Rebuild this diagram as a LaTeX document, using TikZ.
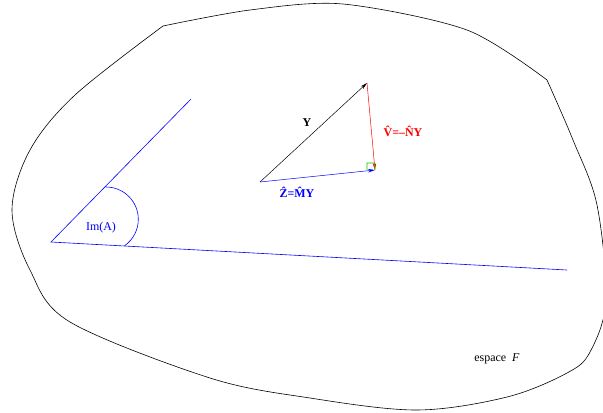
\documentclass[tikz,border=0pt]{standalone}
\usepackage{fontspec}
\setmainfont{Liberation Serif}
\usetikzlibrary{positioning,arrows.meta}

\begin{document}
\begin{tikzpicture}[
        x=1bp, y=-1bp,
        blob/.style={draw, line width=0.6pt},
        imline/.style={draw=blue, line width=0.6pt},
        vec/.style={line width=0.5pt, -{Stealth[length=7pt,width=3.5pt]}},
        lbl/.style={font=\fontsize{12}{14}\selectfont\bfseries, inner sep=1pt},
        txt/.style={font=\fontsize{12}{14}\selectfont, inner sep=1pt}
    ]
        \useasboundingbox (0,0) rectangle (603,412);

        % espace F
        \draw[blob] plot[smooth, tension=0.5] coordinates
            {(163,26) (250,10) (343,4) (467,30) (547,80)};
        \draw[blob] plot[smooth, tension=0.55] coordinates
            {(547,80) (573,140) (597,205) (606,300) (590,352) (567,373)
             (507,397) (417,410) (310,398) (210,378) (70,322)
             (30,270) (12,210) (30,150) (75,95) (163,26)};

        % Im(A)
        \coordinate (o) at (51,242);
        \coordinate (up) at (191,99);
        \coordinate (lo) at (567,270);
        \draw[imline] (up) -- (o) -- (lo);
        \coordinate (arcs) at (106,187);
        \draw[imline] (arcs) arc[start angle=-90, end angle=55, radius=32.3];
        \node[txt, text=blue] (im) at (101,228) {Im(A)};

        % projection
        \coordinate (t) at (260,182);
        \coordinate (y) at (367,83);
        \coordinate (z) at (375,170);
        \draw[vec] (t) -- (y);
        \draw[vec, red] (y) -- (z);
        \draw[vec, blue] (t) -- (z);
        \draw[green!80!black, line width=0.6pt] (367,170) |- (374,163) -- (z);

        \node[lbl] (ylab) at (307,123) {Y};
        \node[lbl, text=red] (vlab) at (403,131) {\^{V}=--\^{N}Y};
        \node[lbl, text=blue] (zlab) at (297,192) {\^{Z}=\^{M}Y};

        \node[txt] (esp) at (497,359) {espace~~\textit{F}};
    \end{tikzpicture}
\end{document}
